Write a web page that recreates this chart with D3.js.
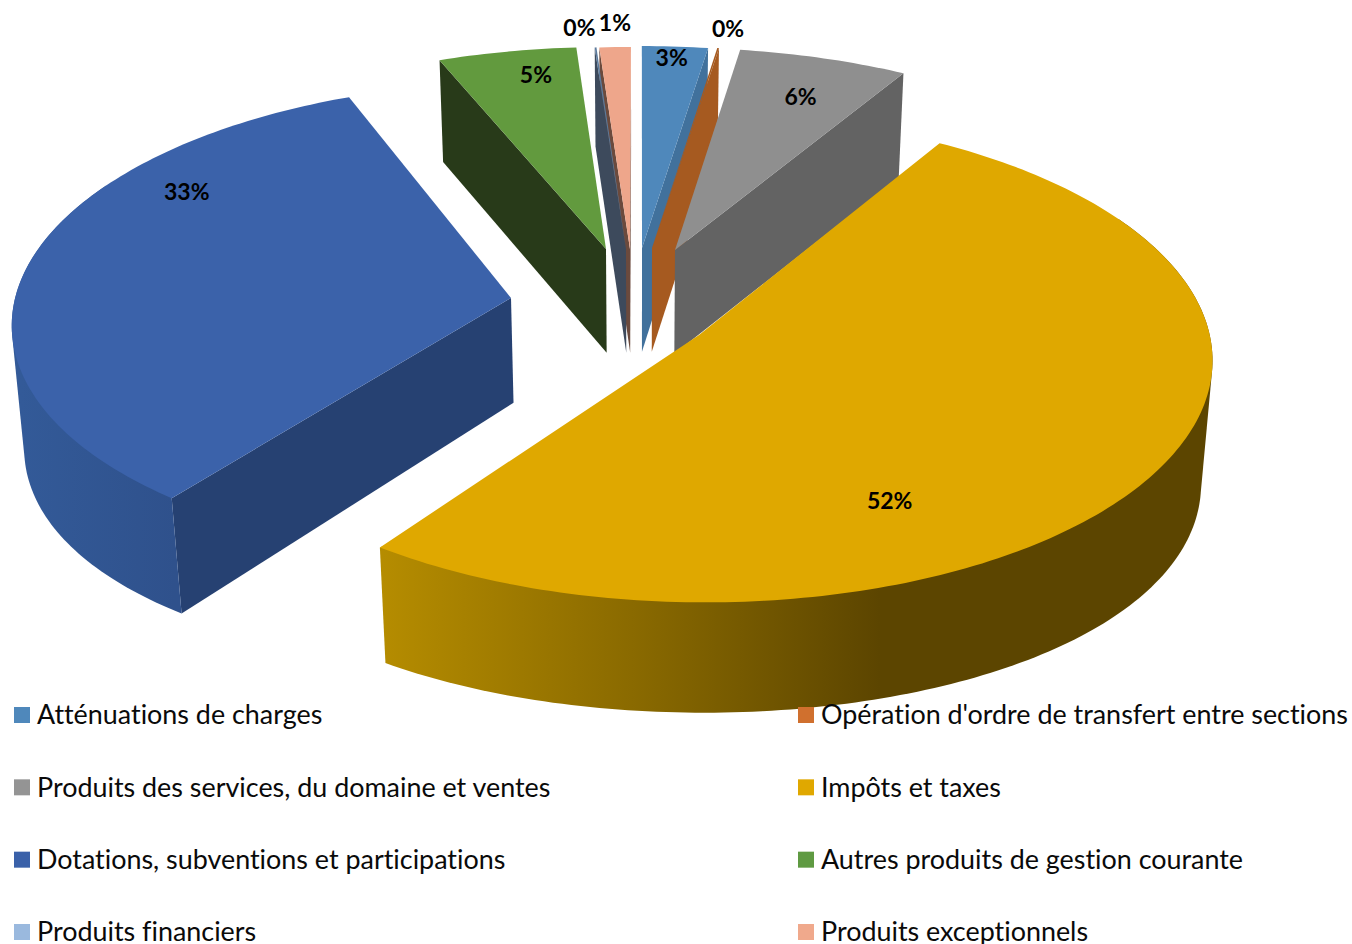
<!DOCTYPE html>
<html><head><meta charset="utf-8">
<script src="https://cdn.jsdelivr.net/npm/d3@7"></script>
<style>html,body{margin:0;padding:0;background:#fff;overflow:hidden}svg{display:block}text{font-variant-ligatures:none}</style>
</head><body><svg id="c" width="1352" height="944"></svg>
<script>
const categories = ["Atténuations de charges","Opération d'ordre de transfert entre sections","Produits des services, du domaine et ventes","Impôts et taxes","Dotations, subventions et participations","Autres produits de gestion courante","Produits financiers","Produits exceptionnels"];
const values = [2.33,0.06,6.0,51.3,33.3,4.9,0.06,1.11];
const pctLabels = ["3%","0%","6%","52%","33%","5%","0%","1%"];
const legendColors = ["#4f88bb","#d0702e","#949494","#e0a800","#3a61a9","#5f9a42","#9ab9de","#f0a98c"];
const topColors = ["#4f88bb","#a65a20","#8f8f8f","#dfa800","#3b62aa","#629a3e","#5b7a9c","#eea68b"];
const wallColors = ["#41719c","#a65a20","#636363","#5c4500","#264172","#283a19","#3d4a5c","#6b4a3d"];
const apexes = [[642,248],[652,248],[675,250],[699,335],[511,298],[606,249],[626,249],[630,249]];
const radiusX = [1,1,1,1,.985,1,1,1];
const radiusY = [1,1,1,1.03,1.03,1,1,1];
const angleNudge = [0,0,0,1,3.1,3.5,3.5,3.4];
const labelPolar = [[.938,4],[1.106,8.9],[.79,20.4],[.747,152.6],[.837,305.3],[.865,349.5],[1.108,354.5],[1.13,358.2]];
const drawOrder = [5,7,6,0,1,2,4,3];

const P = {x0:640,y0:306,a:505,b:230,k:.09,m:.02,h:107,bulge:18};
const rad = d=>d*Math.PI/180;
function project(X,Y,z){const w=1-P.k*Y+P.m*z;return [P.x0+P.a*X/w,P.y0+(P.b*Y+P.h*z)/w];}
function apexToDisc([ax,ay]){const t=ay-P.y0,Y=t/(P.b+P.k*t);return [(ax-P.x0)*(1-P.k*Y)/P.a,Y];}

const total = d3.sum(values);
const arcs = d3.pie().sort(null).startAngle(0).endAngle(2*Math.PI*total/100)(values);
const svg = d3.select("#c");
const defs = svg.append("defs");
const line = d3.line();
function grad(id,x1,x2,stops){const g=defs.append("linearGradient").attr("id",id).attr("gradientUnits","userSpaceOnUse").attr("x1",x1).attr("x2",x2).attr("y1",0).attr("y2",0);
 stops.forEach(s=>g.append("stop").attr("offset",s[0]).attr("stop-color",s[1]));}
grad("rim3",383,880,[[0,"#b58c00"],[.5,"#8a6a00"],[1,"#5c4500"]]);
grad("rim4",20,175,[[0,"#335a98"],[1,"#2f518c"]]);

function slicePts(i,a0,a1,z,n){const [dX,dY]=apexToDisc(apexes[i]);
 return d3.range(n+1).map(j=>{const t=a0+(a1-a0)*j/n,s=Math.sin(t),p=project(dX+radiusX[i]*s,dY-radiusY[i]*Math.cos(t),z);
  return [p[0],p[1]+P.bulge*z*s*s];});}
const apexAt=(i,z)=>{const [dX,dY]=apexToDisc(apexes[i]);return project(dX,dY,z);};
const G = svg.append("g");
drawOrder.forEach(i=>{
 const a=arcs[i],s=a.startAngle+rad(angleNudge[i]),e=a.endAngle+rad(angleNudge[i]);
 const A0=apexAt(i,0),A1=apexAt(i,1);
 const n=Math.max(2,Math.ceil((e-s)/(Math.PI/180)));
 const wall=(t)=>{const r0=slicePts(i,t,t,0,1)[0],r1=slicePts(i,t,t,1,1)[0];return line([A0,r0,r1,A1])+"Z";};
 const sVis=Math.sin(s)<0, eVis=Math.sin(e)>0;
 const fill=wallColors[i];
 if(sVis)G.append("path").attr("d",wall(s)).attr("fill",fill);
 if(eVis)G.append("path").attr("d",wall(e)).attr("fill",fill);
 const ra=Math.max(s,rad(60)),rb=Math.min(e,rad(300));
 if(rb>ra){const m=Math.ceil((rb-ra)/(Math.PI/180));
  const hull=d3.polygonHull(slicePts(i,ra,rb,0,m).concat(slicePts(i,ra,rb,1,m)));
  G.append("path").attr("d",line(hull)+"Z").attr("fill",i===3?"url(#rim3)":i===4?"url(#rim4)":fill);}
 G.append("path").attr("d",line([A0].concat(slicePts(i,s,e,0,n)))+"Z").attr("fill",topColors[i]);
});
arcs.forEach((a,i)=>{const [r,d]=labelPolar[i],t=rad(d),[dX,dY]=apexToDisc(apexes[i]);
 const p=project(dX+r*Math.sin(t),dY-r*Math.cos(t),0);
 svg.append("text").attr("x",p[0]).attr("y",p[1]).attr("dy",".35em").attr("text-anchor","middle")
  .attr("font-family","Lato").attr("font-weight",700).attr("font-size",23).attr("fill","#000").text(pctLabels[i]);});
const colX=d3.scaleOrdinal().domain([0,1]).range([14,798]);
const rowY=d3.scalePoint().domain([0,1,2,3]).range([715,932]);
categories.forEach((c,i)=>{const col=i%2,row=(i-col)/2;
 svg.append("rect").attr("x",colX(col)).attr("y",rowY(row)-8).attr("width",16).attr("height",16).attr("fill",legendColors[i]);
 svg.append("text").attr("x",colX(col)+23).attr("y",rowY(row)).attr("dy",".35em").attr("font-family","Lato").attr("font-size",26.9).attr("fill","#0a0a0a").text(c);});
</script></body></html>
